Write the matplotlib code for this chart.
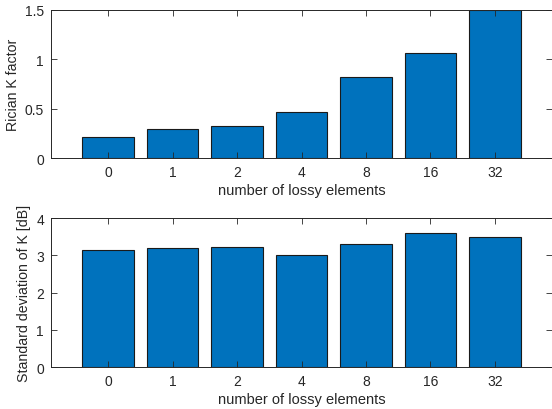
import numpy as np
import matplotlib.pyplot as plt

plt.rcParams.update({
    "font.family": ["Liberation Sans", "DejaVu Sans"],
    "font.size": 10,
    "text.color": "#262626",
    "axes.labelcolor": "#262626",
    "xtick.color": "#262626",
    "ytick.color": "#262626",
})

categories = ["0", "1", "2", "4", "8", "16", "32"]
rician_k = [0.213, 0.294, 0.324, 0.469, 0.827, 1.067, 1.5]
std_k_db = [3.155, 3.19, 3.24, 3.02, 3.32, 3.61, 3.51]

BAR_COLOR = "#0072BD"
EDGE = "#1a1a1a"
AX_COLOR = "#262626"

fig = plt.figure(figsize=(5.52, 4.10), dpi=100)
ax1 = fig.add_axes([0.0924, 0.6115, 0.9076, 0.3617])
ax2 = fig.add_axes([0.0924, 0.1024, 0.9076, 0.3627])

x = np.arange(len(categories))


def style_axes(ax, yticks, ylabel, label_x):
    ax.set_xlim(-0.884, len(categories) - 1 + 0.884)
    ax.set_xticks(x)
    ax.set_xticklabels(categories)
    ax.set_yticks(yticks)
    ax.set_yticklabels([f"{t:g}" for t in yticks])
    ax.set_ylim(yticks[0], yticks[-1])
    ax.tick_params(direction="in", length=4, width=0.6, top=True, right=True,
                   labelsize=10, pad=5)
    for s in ax.spines.values():
        s.set_color(AX_COLOR)
        s.set_linewidth(0.7)
    ax.set_xlabel("number of lossy elements", fontsize=10.5, labelpad=3)
    ax.set_ylabel(ylabel, fontsize=10.2)
    # right edge of the rotated label, in axes fraction
    ax.yaxis.set_label_coords(label_x, 0.5)


ax1.bar(x, rician_k, width=0.8, color=BAR_COLOR, edgecolor=EDGE, linewidth=0.8)
style_axes(ax1, [0, 0.5, 1, 1.5], "Rician K factor", -0.062)

ax2.bar(x, std_k_db, width=0.8, color=BAR_COLOR, edgecolor=EDGE, linewidth=0.8)
style_axes(ax2, [0, 1, 2, 3, 4], "Standard deviation of K [dB]", -0.040)

fig.savefig("out.png", dpi=100)
